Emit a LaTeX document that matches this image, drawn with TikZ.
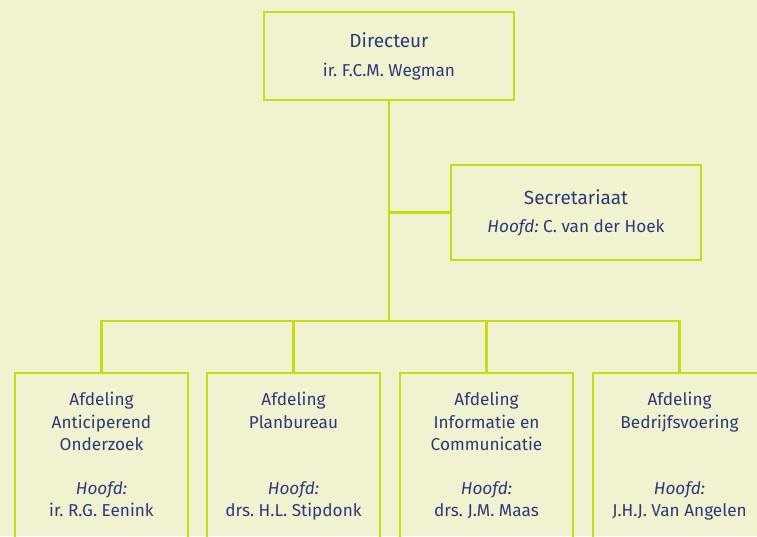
\documentclass[tikz,border=0pt]{standalone}
\usepackage{fontspec}
\setmainfont{Fira Sans}
\frenchspacing
\definecolor{bgc}{HTML}{F0F2D0}
\definecolor{linec}{HTML}{C8DC14}
\definecolor{txtc}{HTML}{2B3A7A}
\begin{document}
\begin{tikzpicture}[x=1pt,y=-1pt,
  box/.style={draw=linec,line width=2.2pt,fill=none,inner sep=0pt},
  conn/.style={draw=linec,line width=2.2pt},
  lbl/.style={text=txtc,font=\fontsize{17.2}{20}\selectfont,inner sep=0pt,anchor=base},
  ttl/.style={lbl,font=\fontsize{19}{22}\selectfont}]
\fill[bgc] (0,0) rectangle (757,536);
\useasboundingbox (0,0) rectangle (757,536);
\clip (0,0) rectangle (757,536);
% boxes
\node[box,minimum width=250pt,minimum height=88pt] (dir) at (389,56) {};
\node[box,minimum width=250pt,minimum height=95pt] (sec) at (576,212.5) {};
\foreach \i/\cx in {1/101.5,2/293.5,3/486.5,4/679.5}{
  \node[box,minimum width=173pt,minimum height=200pt,anchor=north] (b\i) at (\cx,372) {};
}
% connectors
\coordinate (j1) at (389,212.5);
\coordinate (bus) at (389,321);
\coordinate (busl) at (101.5,321);
\coordinate (busr) at (679.5,321);
\draw[conn] (dir.south) -- (j1) -- (bus);
\draw[conn] (j1) -- (sec.west);
\draw[conn,line cap=rect] (busl) -- (busr);
\draw[conn] (busl) -- (b1.north);
\draw[conn] (busr) -- (b4.north);
\draw[conn] (b2.north |- bus) -- (b2.north);
\draw[conn] (b3.north |- bus) -- (b3.north);
% texts
\node[ttl] (t1) at (389,47.5) {Directeur};
\node[lbl] (t2) at (389,76) {ir. F.C.M. Wegman};
\node[ttl] (t3) at (576,204.5) {Secretariaat};
\node[lbl] (t4) at (576,232.5) {\textit{Hoofd:} C. van der Hoek};
\node[lbl] (a1) at (101.5,405.5) {Afdeling};
\node[lbl] (a2) at (101.5,428.5) {Anticiperend};
\node[lbl] (a3) at (101.5,450.5) {Onderzoek};
\node[lbl] (a4) at (101.5,494.5) {\textit{Hoofd:}};
\node[lbl] (a5) at (101.5,516.5) {ir. R.G. Eenink};
\node[lbl] (p1) at (293.5,405.5) {Afdeling};
\node[lbl] (p2) at (293.5,428.5) {Planbureau};
\node[lbl] (p4) at (293.5,494.5) {\textit{Hoofd:}};
\node[lbl] (p5) at (293.5,516.5) {drs. H.L. Stipdonk};
\node[lbl] (c1) at (486.5,405.5) {Afdeling};
\node[lbl] (c2) at (486.5,428.5) {Informatie en};
\node[lbl] (c3) at (486.5,450.5) {Communicatie};
\node[lbl] (c4) at (486.5,494.5) {\textit{Hoofd:}};
\node[lbl] (c5) at (486.5,516.5) {drs. J.M. Maas};
\node[lbl] (d1) at (679.5,405.5) {Afdeling};
\node[lbl] (d2) at (679.5,428.5) {Bedrijfsvoering};
\node[lbl] (d4) at (679.5,494.5) {\textit{Hoofd:}};
\node[lbl] (d5) at (679.5,516.5) {J.H.J. Van Angelen};
\end{tikzpicture}
\end{document}
